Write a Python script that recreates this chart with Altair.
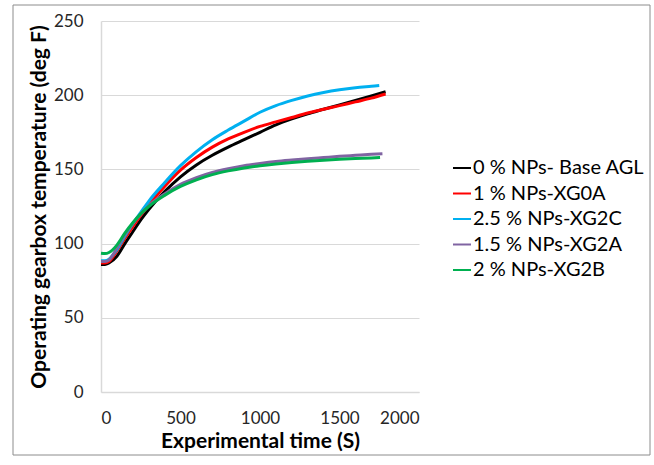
import altair as alt
import pandas as pd

series_names = ["0 % NPs- Base AGL", "1 % NPs-XG0A", "2.5 % NPs-XG2C", "1.5 % NPs-XG2A", "2 % NPs-XG2B"]
colors = ["#000000", "#FF0000", "#00B0F0", "#8064A2", "#00B050"]

base_times = [0, 25, 50, 100, 150, 200, 250, 300, 400, 500, 600, 700, 800, 900, 1000,
              1100, 1200, 1300, 1400, 1500, 1600, 1700]
end_times = [1790, 1790, 1750, 1770, 1755]

black = [86, 86, 87, 91.5, 100, 108, 116, 123, 135, 145, 153, 159.5, 165, 170, 175,
         180, 184, 187.5, 190.5, 193.5, 196.5, 199.5, 202.3]
red = [87, 87, 88, 95, 103.5, 111.5, 119, 126, 138.5, 149.5, 158, 165, 170.5, 175, 179,
       182, 185, 188, 190.5, 193, 195.5, 198, 200.8]
cyan = [88.5, 88.5, 89.5, 96, 105, 113.5, 121, 128.5, 141, 152.5, 162, 170, 176.5, 182.5, 188.5,
        193, 196.5, 199.5, 201.8, 203.6, 205, 206, 206.5]
purple = [88, 88, 89, 97, 106, 113.5, 120, 125.5, 133.5, 140, 144.5, 148, 150.5, 152.5, 154,
          155.3, 156.3, 157.2, 158, 158.8, 159.5, 160.2, 160.6]
green = [93.5, 93.3, 94, 99, 107, 114, 120, 125, 132.5, 138.5, 143, 146.5, 149, 151, 152.5,
         153.7, 154.7, 155.5, 156.2, 156.8, 157.3, 157.7, 158]

all_series = [black, red, cyan, purple, green]

rows = []
for name, vals, tend in zip(series_names, all_series, end_times):
    times = base_times + [tend]
    for i, (t, v) in enumerate(zip(times, vals)):
        rows.append({"series": name, "time": t, "temp": v, "order": i})
df = pd.DataFrame(rows)

FONT = "Lato"

lines = alt.Chart(df).mark_line(strokeWidth=3, interpolate="monotone").encode(
    x=alt.X("time:Q", scale=alt.Scale(domain=[0, 2000], nice=False),
            axis=alt.Axis(values=[0, 500, 1000, 1500, 2000], format="d", title="Experimental time (S)",
                          grid=False, ticks=False, labelPadding=18, titlePadding=4)),
    y=alt.Y("temp:Q", scale=alt.Scale(domain=[0, 250], nice=False),
            axis=alt.Axis(values=[0, 50, 100, 150, 200, 250], format="d",
                          title="Operating gearbox temperature (deg F)",
                          grid=True, ticks=False, labelPadding=18, titlePadding=4)),
    color=alt.Color("series:N", scale=alt.Scale(domain=series_names, range=colors),
                    legend=alt.Legend(title=None, orient="none", legendX=351, legendY=137,
                                      symbolType="stroke", symbolSize=324, symbolStrokeWidth=2,
                                      labelFontSize=20, labelFont=FONT, labelColor="#000000",
                                      labelLimit=400, labelOffset=1, rowPadding=5.5)),
    order="order:Q",
    detail="series:N",
)

frame = alt.Chart(pd.DataFrame({"a": [0]})).mark_rect(fill=None, stroke="#8c8c8c", strokeWidth=1).encode(
    x=alt.value(-88), x2=alt.value(549), y=alt.value(-16), y2=alt.value(434)
)

chart = alt.layer(frame, lines).properties(
    width=318, height=371,
    background="white",
    autosize=alt.AutoSizeParams(type="none"),
    padding={"left": 101, "top": 21, "right": 235, "bottom": 73},
).configure_view(stroke=None).configure_axis(
    labelFont=FONT, labelFontSize=17, labelColor="#262626",
    titleFont=FONT, titleFontSize=21, titleFontWeight="bold", titleColor="#000000",
    domainColor="#d9d9d9", gridColor="#d9d9d9", domainWidth=1.5,
)

chart.save("out.html", embed_options={"renderer": "svg", "actions": False})
